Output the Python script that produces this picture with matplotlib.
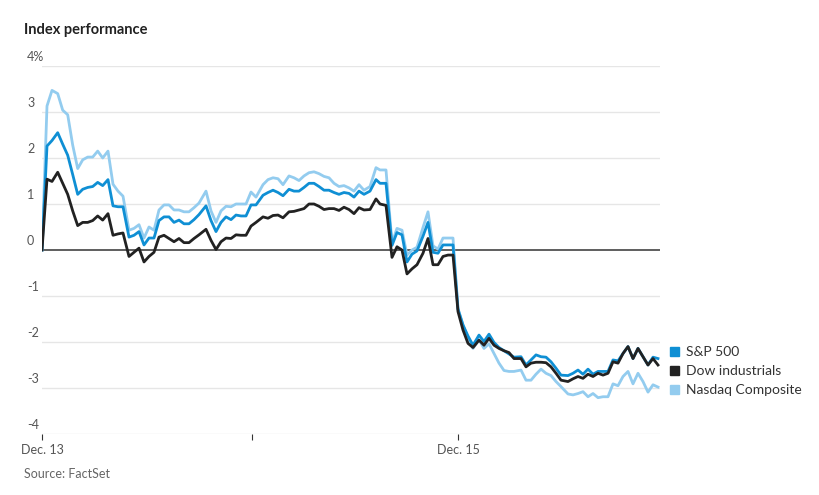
import matplotlib
matplotlib.use("Agg")
import matplotlib.pyplot as plt
import numpy as np

plt.rcParams['font.family'] = ['Lato', 'DejaVu Sans']

# sample positions (chart pixels along the time axis; 208 px = one trading day, 42 = Dec. 13 open)
pos = [42,47,52,57.7,62.7,67.7,72.7,77.7,82.7,87.7,92.7,97.7,102.7,108,113,118,123,129,134,139,144,149,154,159,164,169,174,179,184,189,194,199,206,211,216,221,226,231,236,241,246,251,256,
       263,268,273,278,283,289,294,299,304,309,314,319,324,329,334,339,344,349,354,359,364,370,376,380,386,392,397,402,407,412,417,423,428,433,438,443,448,453,
       458,463,468,473,479,484,489,494,499,504,509,514,521,526,531,536,541,546,551,556,561,568,573,578,583,588,593,598,603,608,613,618,623,628,633,638,643,648,653,658]

nasdaq = [0,3.13,3.47,3.40,3.04,2.94,2.28,1.77,1.96,2.02,2.02,2.15,2.0,2.15,1.43,1.28,1.17,0.43,0.47,0.55,0.26,0.50,0.43,0.87,0.98,0.98,0.87,0.87,0.83,0.83,0.92,1.02,1.28,0.85,0.6,0.85,0.95,0.94,1.0,1.0,1.0,1.26,1.15,
          1.42,1.53,1.57,1.55,1.42,1.61,1.57,1.51,1.61,1.68,1.70,1.66,1.60,1.57,1.45,1.38,1.40,1.35,1.28,1.42,1.30,1.38,1.79,1.74,1.74,0.15,0.47,0.43,-0.11,0.0,0.06,0.49,0.83,0.09,0.02,0.26,0.26,0.26,
          -1.27,-1.63,-1.92,-2.14,-1.95,-2.14,-2.04,-2.25,-2.46,-2.62,-2.64,-2.64,-2.61,-2.83,-2.83,-2.7,-2.59,-2.68,-2.73,-2.86,-2.97,-3.13,-3.15,-3.12,-3.08,-3.19,-3.12,-3.21,-3.19,-3.19,-2.91,-2.95,-2.75,-2.64,-2.91,-2.68,-2.86,-3.09,-2.93,-2.98]

sp500 = [0,2.26,2.38,2.55,2.3,2.06,1.64,1.21,1.32,1.36,1.38,1.47,1.40,1.53,0.96,0.94,0.94,0.28,0.32,0.40,0.11,0.26,0.26,0.64,0.72,0.72,0.6,0.65,0.57,0.57,0.66,0.77,0.96,0.64,0.4,0.6,0.72,0.66,0.76,0.74,0.74,0.98,0.98,
         1.19,1.25,1.30,1.25,1.18,1.32,1.28,1.28,1.36,1.45,1.45,1.38,1.30,1.30,1.25,1.21,1.25,1.23,1.15,1.28,1.21,1.28,1.53,1.45,1.45,0.1,0.38,0.33,-0.26,-0.09,-0.02,0.3,0.6,-0.05,-0.07,0.11,0.11,0.11,
         -1.29,-1.63,-1.87,-2.07,-1.85,-1.99,-1.83,-2.01,-2.12,-2.19,-2.26,-2.33,-2.32,-2.5,-2.39,-2.28,-2.32,-2.33,-2.43,-2.57,-2.72,-2.73,-2.68,-2.61,-2.7,-2.59,-2.7,-2.64,-2.64,-2.64,-2.39,-2.41,-2.25,-2.1,-2.36,-2.14,-2.32,-2.5,-2.33,-2.36]

dow = [0,1.54,1.49,1.69,1.45,1.21,0.85,0.53,0.6,0.6,0.64,0.74,0.65,0.79,0.32,0.35,0.37,-0.14,-0.05,0.04,-0.26,-0.14,-0.05,0.28,0.32,0.25,0.18,0.25,0.16,0.16,0.25,0.33,0.45,0.21,0.01,0.18,0.26,0.25,0.33,0.32,0.32,0.52,0.6,
       0.72,0.69,0.75,0.76,0.70,0.83,0.84,0.87,0.9,1.0,1.0,0.95,0.88,0.9,0.9,0.86,0.93,0.88,0.79,0.92,0.87,0.88,1.11,1.0,0.97,-0.16,0.07,0.0,-0.52,-0.41,-0.32,-0.07,0.25,-0.32,-0.32,-0.14,-0.11,-0.11,
       -1.34,-1.74,-2.03,-2.12,-1.96,-2.07,-1.92,-2.07,-2.14,-2.19,-2.23,-2.36,-2.36,-2.54,-2.46,-2.44,-2.44,-2.45,-2.54,-2.68,-2.83,-2.86,-2.8,-2.75,-2.79,-2.7,-2.75,-2.68,-2.72,-2.68,-2.43,-2.46,-2.25,-2.1,-2.36,-2.14,-2.32,-2.5,-2.36,-2.5]

series_names = ['S&P 500', 'Dow industrials', 'Nasdaq Composite']
colors = ['#0f8fd4', '#222222', '#93ccef']
xtick_labels = ['Dec. 13', '', 'Dec. 15']
ytick_vals = [4, 3, 2, 1, 0, -1, -2, -3, -4]
ytick_labels = ['4%', '3', '2', '1', '0', '-1', '-2', '-3', '-4']

t = (np.array(pos) - 42) / 208.0

TOP, BOT = 66, 434
fig = plt.figure(figsize=(8.2, 4.95), dpi=100)
ax = fig.add_axes([42/820, 1-BOT/495, (660-42)/820, (BOT-TOP)/495])
ax.set_xlim(0, (660-42)/208.0)
ax.set_ylim(-4, 4)

for v in ytick_vals:
    if v == 0:
        ax.axhline(0, color='#333333', lw=1.1, zorder=1)
    else:
        ax.axhline(v, color='#e6e6e6', lw=1, zorder=0)

ax.plot(t, nasdaq, color=colors[2], lw=2, zorder=2)
ax.plot(t, sp500, color=colors[0], lw=2, zorder=3)
ax.plot(t, dow, color=colors[1], lw=2, zorder=4)

for s in ax.spines.values():
    s.set_visible(False)
ax.set_yticks([])
ax.set_xticks([0, 1.01, 2.0])
ax.set_xticklabels(xtick_labels, fontsize=9, color='#555555')
ax.tick_params(axis='x', length=4, color='#333333', pad=3)

unit = (BOT - TOP) / 8
for v, lab in zip(ytick_vals, ytick_labels):
    fig.text(27/820, 1-(250-unit*v)/495 + 0.006, lab, fontsize=9, color='#555555',
             ha='left', va='bottom')

fig.text(24/820, 1-30/495, 'Index performance', fontsize=10.5, fontweight='bold',
         color='#222222', va='center')
fig.text(24/820, 1-474/495, 'Source: FactSet', fontsize=9, color='#666666', va='center')

for i, (name, c) in enumerate(zip(series_names, colors)):
    y = 1 - (351 + 19*i)/495
    fig.patches.append(plt.Rectangle((670/820, y-0.011), 9/820, 9/495, color=c,
                                     transform=fig.transFigure, figure=fig))
    fig.text(686/820, y-0.002, name, fontsize=10, color='#333333', va='center')

fig.savefig('out.png', dpi=100)
